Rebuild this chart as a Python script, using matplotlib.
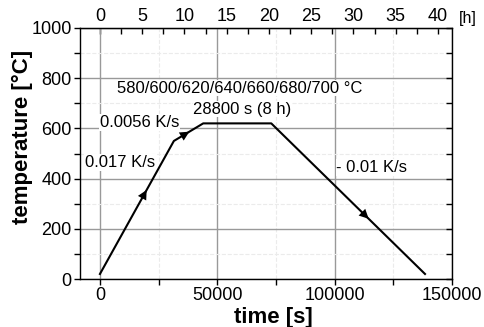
import numpy as np
import matplotlib
matplotlib.use("Agg")
import matplotlib.pyplot as plt
from matplotlib.ticker import MultipleLocator

plt.rcParams['font.family'] = ['Liberation Sans', 'DejaVu Sans']

# --- data: heat-treatment profile ---
time_s = [0, 31500, 44000, 73000, 138500]
temp_c = [20, 550, 620, 620, 20]

# arrow positions along the profile (time, s)
arrow_t = [19900, 38100, 114500]

# annotations: (text, time, temperature)
labels = [
    ("580/600/620/640/660/680/700 °C", 59700, 760),
    ("28800 s (8 h)", 60700, 676),
    ("0.0056 K/s", 17000, 624),
    ("0.017 K/s", 8500, 464),
    ("- 0.01 K/s", 115800, 444),
]

fig = plt.figure(figsize=(4.85, 3.27), dpi=100)
ax = fig.add_axes([80 / 485, 1 - 279 / 327, 372 / 485, 251 / 327])

ax.plot(time_s, temp_c, color='black', lw=1.5, zorder=3)

# direction arrows on each ramp
for t in arrow_t:
    T = np.interp(t, time_s, temp_c)
    t0 = t - 2500
    T0 = np.interp(t0, time_s, temp_c)
    ax.annotate('', xy=(t, T), xytext=(t0, T0),
                arrowprops=dict(arrowstyle='-|>', color='black', lw=0,
                                mutation_scale=17, shrinkA=0, shrinkB=0),
                zorder=4)

for txt, x, y in labels:
    ax.text(x, y, txt, ha='center', va='center', fontsize=12, zorder=5,
            bbox=dict(facecolor='white', edgecolor='none', pad=0.5))

ax.set_xlim(-8500, 150000)
ax.set_ylim(0, 1000)
ax.xaxis.set_major_locator(MultipleLocator(50000))
ax.xaxis.set_minor_locator(MultipleLocator(25000))
ax.yaxis.set_major_locator(MultipleLocator(200))
ax.yaxis.set_minor_locator(MultipleLocator(100))

ax.grid(True, which='major', color='#999999', lw=1.0, zorder=0)
ax.grid(True, which='minor', color='#ebebeb', lw=0.8, ls='--', zorder=0)

ax.tick_params(axis='both', which='major', labelsize=13, length=4, width=1,
               direction='out', pad=2)
ax.tick_params(axis='both', which='minor', length=4, width=1, direction='out')
ax.tick_params(axis='y', which='both', right=True)
for t in ax.yaxis.get_major_ticks() + ax.yaxis.get_minor_ticks():
    t.tick2line.set_marker(0)  # right ticks point inward

ax.set_xlabel('time [s]', fontsize=16, fontweight='bold')
ax.set_ylabel('temperature [°C]', fontsize=16, fontweight='bold')
ax.xaxis.set_label_coords(0.519, -0.11)
ax.yaxis.set_label_coords(-0.126, 0.566)

# top axis in hours
top = ax.secondary_xaxis('top', functions=(lambda s: s / 3600.0, lambda h: h * 3600.0))
top.xaxis.set_major_locator(MultipleLocator(5))
top.xaxis.set_minor_locator(MultipleLocator(2.5))
top.tick_params(which='both', direction='in', length=4, width=1, labelsize=13, pad=2)
fig.text(459 / 485, 1 - 18 / 327, '[h]', fontsize=11.5, ha='left', va='center')

for s in ax.spines.values():
    s.set_linewidth(1.0)

fig.savefig('out.png', dpi=100)
